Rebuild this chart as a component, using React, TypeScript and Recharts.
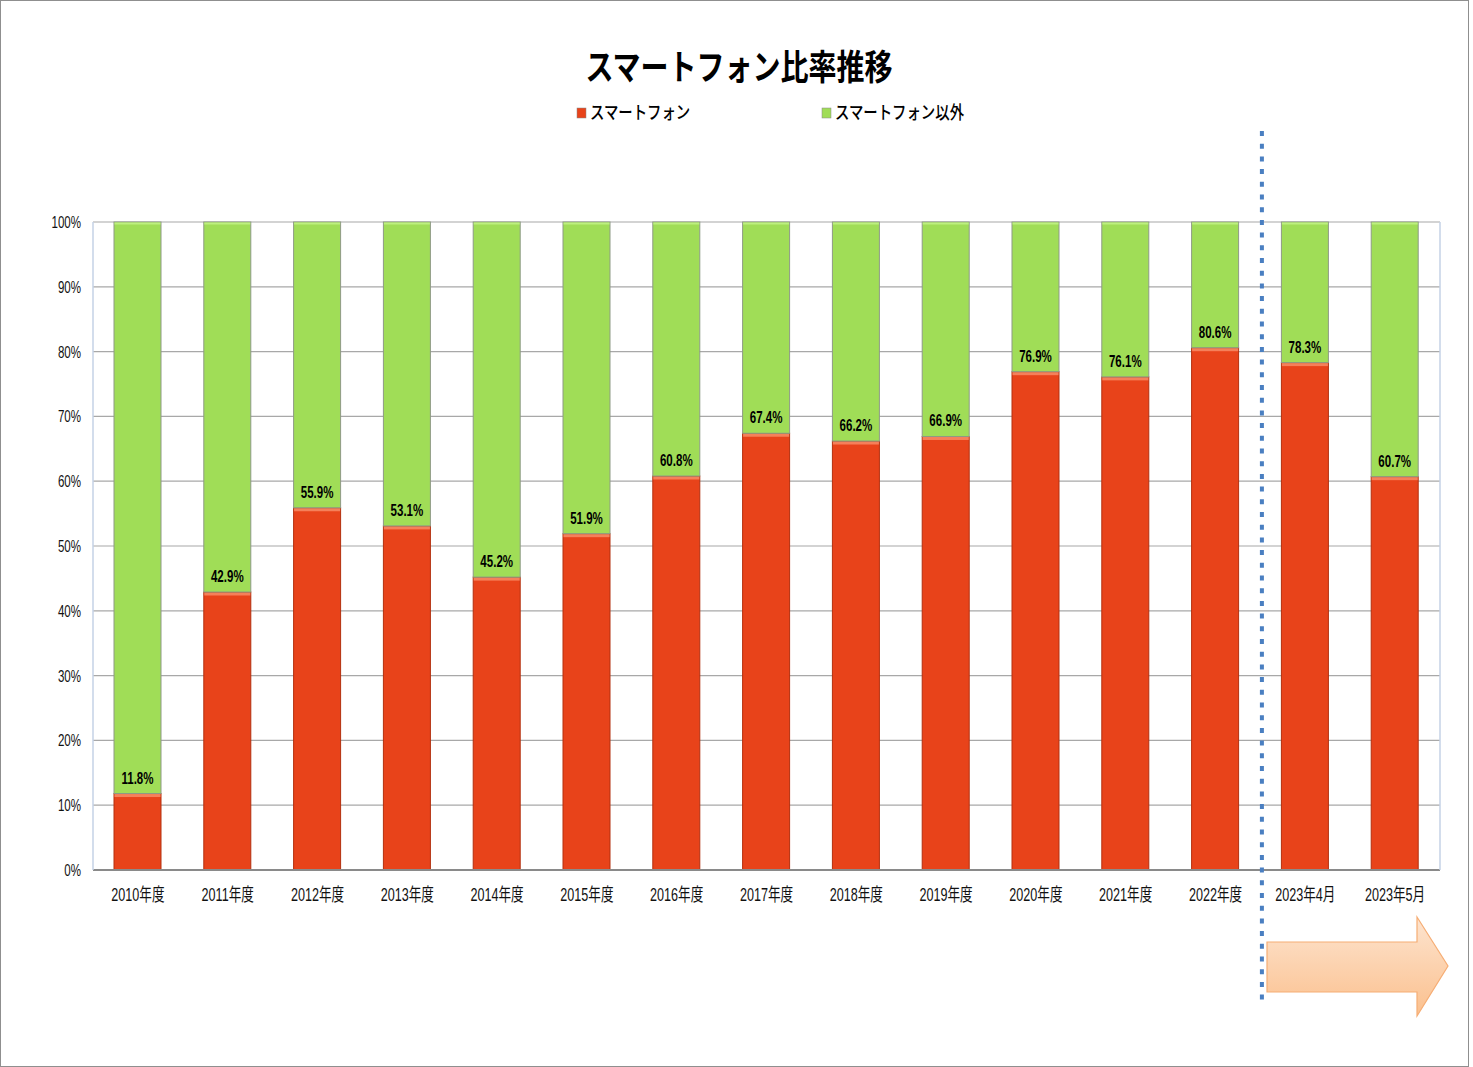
import React from "react";
import {
  BarChart,
  Bar,
  XAxis,
  YAxis,
  CartesianGrid,
  LabelList,
} from "recharts";

const categories = [
  "2010年度",
  "2011年度",
  "2012年度",
  "2013年度",
  "2014年度",
  "2015年度",
  "2016年度",
  "2017年度",
  "2018年度",
  "2019年度",
  "2020年度",
  "2021年度",
  "2022年度",
  "2023年4月",
  "2023年5月",
];
const smartphone = [11.8, 42.9, 55.9, 53.1, 45.2, 51.9, 60.8, 67.4, 66.2, 66.9, 76.9, 76.1, 80.6, 78.3, 60.7];
const nonSmartphone = [88.2, 57.1, 44.1, 46.9, 54.8, 48.1, 39.2, 32.6, 33.8, 33.1, 23.1, 23.9, 19.4, 21.7, 39.3];
const yTicks = [0, 10, 20, 30, 40, 50, 60, 70, 80, 90, 100];
const seriesNames = ["スマートフォン", "スマートフォン以外"];
const title = "スマートフォン比率推移";

const data = categories.map((cat, i) => ({
  cat,
  smart: smartphone[i],
  other: nonSmartphone[i],
}));

const W = 1473;
const H = 1067;
const PLOT_LEFT = 93;
const PLOT_RIGHT = 1440;
const BAND = (PLOT_RIGHT - PLOT_LEFT) / categories.length;

const RED = "#e8431a";
const GREEN = "#a0dd57";
const FONT = "'Liberation Sans', 'Noto Sans CJK JP', sans-serif";
const CJK = "'Noto Sans CJK JP', sans-serif";

function RedBar(props: any) {
  const { x, y, width, height } = props;
  if (!height || height <= 0) return null;
  return (
    <g>
      <rect x={x} y={y} width={width} height={height} fill={RED} stroke="#b3300f" strokeWidth={1} />
      <rect x={x + 0.5} y={y + 0.5} width={width - 1} height={3} fill="#f5805a" />
    </g>
  );
}

function GreenBar(props: any) {
  const { x, y, width, height } = props;
  if (!height || height <= 0) return null;
  return (
    <g>
      <rect x={x} y={y} width={width} height={height} fill={GREEN} stroke="#8e9a86" strokeWidth={1} />
      <rect x={x + 0.5} y={y + 0.5} width={width - 1} height={2} fill="#bdf07f" />
    </g>
  );
}

function PctLabel(props: any) {
  const { x, y, width, height, value } = props;
  const cx = Number(x) + Number(width) / 2;
  const by = Number(y) + Number(height) - 10;
  return (
    <text
      transform={`translate(${cx},${by}) scale(0.72,1)`}
      textAnchor="middle"
      fontFamily={FONT}
      fontWeight="bold"
      fontSize={16}
      fill="#000"
    >
      {Number(value).toFixed(1)}%
    </text>
  );
}

function XTick(props: any) {
  const { x, y, payload } = props;
  return (
    <text
      transform={`translate(${x},${Number(y) + 23}) scale(0.7,1)`}
      textAnchor="middle"
      fontFamily={FONT}
      fontSize={18}
      fill="#111"
    >
      {payload.value}
    </text>
  );
}

function YTick(props: any) {
  const { y, payload } = props;
  return (
    <text
      transform={`translate(${PLOT_LEFT - 12},${Number(y) + 6}) scale(0.68,1)`}
      textAnchor="end"
      fontFamily={FONT}
      fontSize={17}
      fill="#111"
    >
      {payload.value}%
    </text>
  );
}

function Overlay() {
  const divX = PLOT_LEFT + BAND * 13 + 1.5;
  const legend = [
    { name: seriesNames[0], color: RED, x: 577 },
    { name: seriesNames[1], color: GREEN, x: 822 },
  ];
  return (
    <svg
      width={W}
      height={H}
      style={{ position: "absolute", left: 0, top: 0, pointerEvents: "none" }}
    >
      <defs>
        <linearGradient id="arrowFill" x1="0" y1="0" x2="0" y2="1">
          <stop offset="0%" stopColor="#fde4cf" />
          <stop offset="100%" stopColor="#fbc08e" />
        </linearGradient>
      </defs>
      <text
        transform={`translate(739,80) scale(0.8,1)`}
        textAnchor="middle"
        fontFamily={CJK}
        fontWeight={700}
        fontSize={35}
        fill="#000"
      >
        {title}
      </text>
      {legend.map((l) => (
        <g key={l.name}>
          <rect x={l.x} y={108} width={9} height={10} fill={l.color} stroke="#888" strokeWidth={0.5} />
          <text
            transform={`translate(${l.x + 13},119) scale(0.8,1)`}
            fontFamily={CJK}
            fontWeight={500}
            fontSize={18}
            fill="#000"
          >
            {l.name}
          </text>
        </g>
      ))}
      <line
        x1={divX}
        x2={divX}
        y1={131}
        y2={1000}
        stroke="#4a7fc1"
        strokeWidth={4}
        strokeDasharray="5 7.7"
      />
      <path
        d="M1267,942 L1417,942 L1417,917 L1448,966 L1417,1016 L1417,992 L1267,992 Z"
        fill="url(#arrowFill)"
        stroke="#f6ad74"
        strokeWidth={1.2}
      />
    </svg>
  );
}

export default function App() {
  return (
    <div
      style={{
        position: "absolute",
        left: 0,
        top: 0,
        width: W,
        height: H,
        background: "#fff",
      }}
    >
      <div
        style={{
          position: "absolute",
          left: 0,
          top: 0,
          width: 1469,
          height: H,
          boxSizing: "border-box",
          border: "1.5px solid #8f8f8f",
        }}
      />
      <BarChart
        width={W}
        height={H}
        data={data}
        margin={{ top: 222, right: 0, bottom: 0, left: 0 }}
        barSize={47}
      >
        <CartesianGrid vertical={false} stroke="#a8a8a8" strokeWidth={1.2} />
        <XAxis
          dataKey="cat"
          tickLine={false}
          axisLine={{ stroke: "#8a8a8a", strokeWidth: 2 }}
          tick={<XTick />}
          interval={0}
          height={197}
        />
        <YAxis
          domain={[0, 100]}
          ticks={yTicks}
          width={PLOT_LEFT}
          tickLine={false}
          axisLine={{ stroke: "#c5d2e6", strokeWidth: 1.5 }}
          tick={<YTick />}
        />
        <YAxis
          yAxisId="frame"
          orientation="right"
          domain={[0, 100]}
          width={W - PLOT_RIGHT}
          tick={false}
          tickLine={false}
          axisLine={{ stroke: "#c5d2e6", strokeWidth: 1.5 }}
        />
        <Bar dataKey="smart" stackId="a" shape={<RedBar />} isAnimationActive={false} />
        <Bar dataKey="other" stackId="a" shape={<GreenBar />} isAnimationActive={false}>
          <LabelList dataKey="smart" content={<PctLabel />} />
        </Bar>
      </BarChart>
      <Overlay />
    </div>
  );
}
